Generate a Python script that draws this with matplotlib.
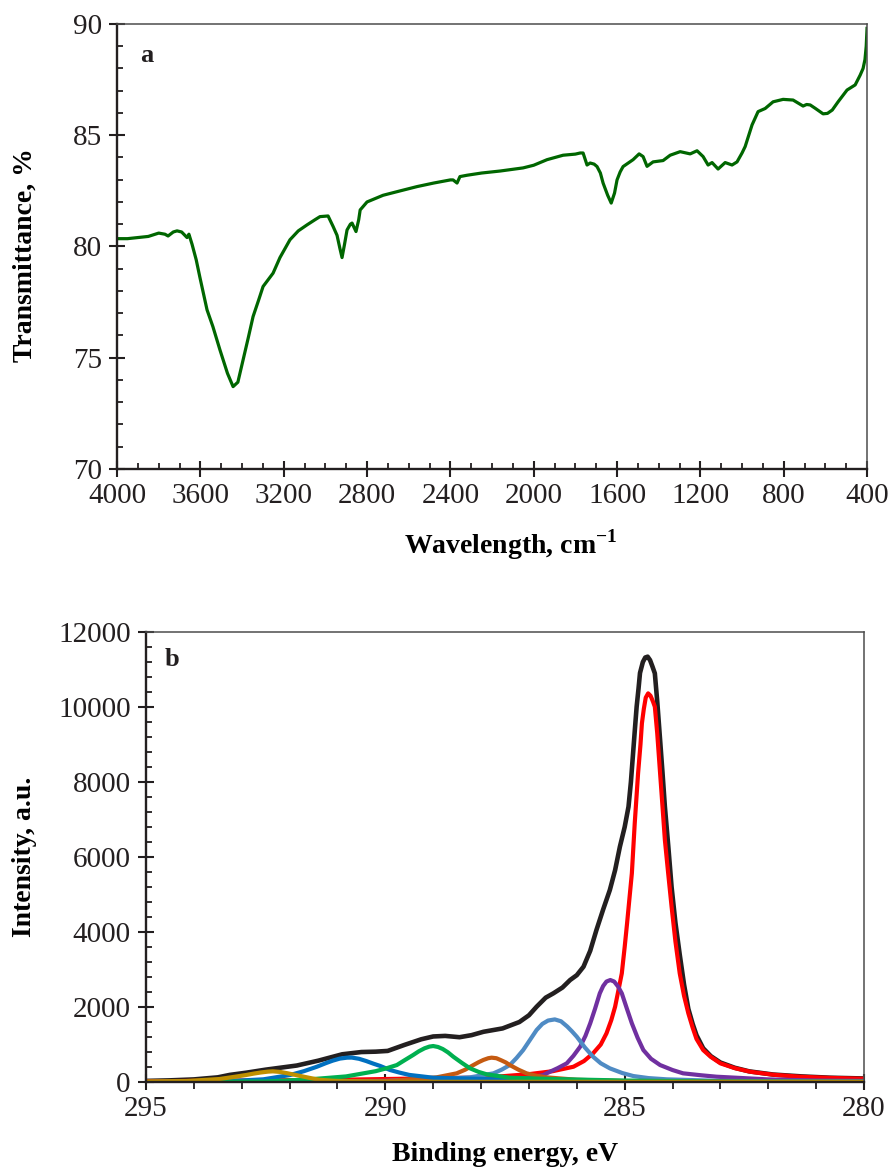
import matplotlib
matplotlib.use("Agg")
import matplotlib.pyplot as plt
from matplotlib.ticker import MultipleLocator

plt.rcParams['font.family'] = ['Liberation Serif', 'DejaVu Serif']
plt.rcParams['mathtext.fontset'] = 'custom'
plt.rcParams['mathtext.rm'] = 'Liberation Serif'
plt.rcParams['mathtext.bf'] = 'Liberation Serif:bold'

# ---------------- Panel a: FTIR ----------------
ftir_wavenumber = [4000, 3950, 3900, 3850, 3800, 3770, 3755, 3730, 3712, 3690, 3664, 3655, 3640,
                   3620, 3602, 3568, 3540, 3506, 3470, 3443, 3420, 3395, 3370, 3347, 3320, 3299,
                   3251, 3218, 3194, 3170, 3130, 3088, 3050, 3026, 2987, 2963, 2944, 2930, 2920,
                   2908, 2896, 2880, 2872, 2853, 2840, 2833, 2800, 2723, 2640, 2560, 2480, 2400,
                   2387, 2368, 2354, 2320, 2250, 2161, 2051, 2000, 1936, 1859, 1800, 1777, 1763,
                   1744, 1729, 1710, 1696, 1680, 1667, 1645, 1628, 1612, 1600, 1585, 1571, 1523,
                   1494, 1475, 1456, 1427, 1379, 1345, 1297, 1249, 1216, 1187, 1163, 1144, 1115,
                   1081, 1048, 1024, 1000, 985, 952, 923, 889, 851, 803, 755, 707, 690, 673, 649,
                   611, 590, 567, 539, 496, 457, 433, 419, 410, 404, 400]
ftir_transmittance = [80.35, 80.35, 80.4, 80.45, 80.6, 80.55, 80.47, 80.65, 80.7, 80.65, 80.4, 80.55, 80.1,
                      79.4, 78.6, 77.15, 76.4, 75.35, 74.3, 73.7, 73.9, 74.9, 75.9, 76.85, 77.6, 78.2,
                      78.8, 79.5, 79.9, 80.3, 80.7, 80.97, 81.2, 81.34, 81.37, 80.9, 80.5, 79.9, 79.5,
                      80.1, 80.74, 81.0, 81.05, 80.67, 81.2, 81.64, 82.0, 82.3, 82.5, 82.69, 82.85, 82.99,
                      82.99, 82.85, 83.14, 83.2, 83.3, 83.39, 83.53, 83.65, 83.9, 84.1, 84.15, 84.2, 84.2,
                      83.66, 83.75, 83.7, 83.59, 83.3, 82.85, 82.3, 81.95, 82.4, 82.99, 83.35, 83.59, 83.9,
                      84.16, 84.04, 83.6, 83.8, 83.86, 84.1, 84.26, 84.16, 84.3, 84.04, 83.66, 83.77, 83.48,
                      83.77, 83.66, 83.8, 84.2, 84.49, 85.46, 86.06, 86.2, 86.5, 86.61, 86.58, 86.31, 86.38, 86.36, 86.21,
                      85.96, 85.98, 86.13, 86.5, 87.03, 87.26, 87.7, 88.0, 88.4, 89.0, 89.8]

ftir_xticks = [4000, 3600, 3200, 2800, 2400, 2000, 1600, 1200, 800, 400]
ftir_yticks = [70, 75, 80, 85, 90]

# ---------------- Panel b: XPS C1s ----------------
env_E = [295.0, 294.5, 294.0, 293.5, 293.25, 292.9, 292.5, 291.85, 291.4, 290.9, 290.5, 290.2,
         289.95, 289.6, 289.25, 289.0, 288.75, 288.45, 288.2, 287.95, 287.55, 287.2, 287.0,
         286.84, 286.65, 286.49, 286.3, 286.14, 286.0, 285.86, 285.72, 285.59, 285.45, 285.31,
         285.2, 285.1, 285.0, 284.92, 284.87, 284.83, 284.79, 284.75, 284.71, 284.68, 284.62,
         284.57, 284.52, 284.47, 284.42, 284.37, 284.32, 284.26, 284.21, 284.16, 284.09, 284.02,
         283.94, 283.85, 283.76, 283.67, 283.58, 283.5, 283.36, 283.2, 283.0, 282.7, 282.4,
         281.9, 281.3, 280.7, 280.0]
env_I = [30, 45, 70, 125, 190, 250, 330, 440, 570, 740, 800, 810,
         830, 990, 1140, 1215, 1230, 1195, 1250, 1340, 1430, 1600, 1780,
         2008, 2250, 2365, 2520, 2720, 2850, 3075, 3500, 4053, 4600, 5120,
         5650, 6275, 6800, 7342, 8000, 8675, 9350, 10008, 10500, 10907, 11200,
         11320, 11342, 11250, 11080, 10898, 10150, 9120, 8250, 7342, 6300, 5200,
         4250, 3400, 2600, 1950, 1550, 1250, 900, 690, 520, 380, 285,
         200, 150, 115, 95]

c1_E = [295.0, 293.0, 291.0, 289.0, 288.0, 287.5, 287.0, 286.5, 286.07, 285.85, 285.66, 285.5,
        285.38, 285.28, 285.2, 285.13, 285.06, 285.0, 284.95, 284.9, 284.85, 284.79, 284.72,
        284.67, 284.64, 284.6, 284.56, 284.51, 284.46, 284.41, 284.37, 284.32, 284.26, 284.21,
        284.16, 284.09, 284.02, 283.94, 283.85, 283.76, 283.67, 283.58, 283.5, 283.36, 283.2,
        283.0, 282.7, 282.38, 281.9, 281.34, 280.7, 280.0]
c1_I = [20, 40, 60, 100, 120, 160, 210, 290, 408, 560, 765, 1000,
        1298, 1650, 2008, 2450, 2898, 3600, 4232, 4900, 5565, 6898, 8232,
        9000, 9565, 9950, 10250, 10364, 10300, 10150, 10008, 9300, 8232, 7350,
        6453, 5550, 4675, 3750, 2898, 2300, 1832, 1450, 1150, 853, 670,
        498, 370, 275, 195, 142, 110, 88]

c2_E = [295.0, 289.0, 287.5, 287.0, 286.7, 286.56, 286.4, 286.21, 286.07, 285.93, 285.82, 285.72,
        285.62, 285.52, 285.45, 285.38, 285.3, 285.22, 285.14, 285.06, 284.96, 284.85, 284.73,
        284.61, 284.45, 284.26, 284.0, 283.78, 283.4, 283.08, 282.0, 281.0, 280.0]
c2_I = [0, 10, 50, 110, 187, 275, 370, 498, 700, 942, 1230, 1565,
        1950, 2365, 2560, 2680, 2720, 2680, 2550, 2365, 1980, 1565, 1180,
        853, 620, 453, 320, 232, 180, 142, 70, 40, 30]

c3_E = [295.0, 290.0, 289.0, 288.23, 287.74, 287.57, 287.4, 287.26, 287.12, 286.98, 286.84,
        286.72, 286.6, 286.46, 286.33, 286.2, 286.1, 286.0, 285.83, 285.66, 285.5, 285.31,
        285.05, 284.82, 284.5, 284.12, 283.0, 280.0]
c3_I = [0, 30, 80, 125, 232, 330, 453, 640, 853, 1120, 1387,
        1550, 1640, 1670, 1620, 1480, 1350, 1208, 920, 675, 500, 365,
        240, 160, 105, 72, 30, 10]

c4_E = [295.0, 290.0, 289.6, 288.93, 288.51, 288.33, 288.16, 288.05, 287.95, 287.85, 287.78,
        287.68, 287.58, 287.48, 287.4, 287.22, 287.05, 286.85, 286.63, 286.0, 285.0, 280.0]
c4_I = [0, 20, 60, 125, 232, 330, 453, 530, 590, 635, 650,
        635, 580, 520, 453, 330, 232, 170, 125, 60, 25, 0]

c5_E = [295.0, 292.5, 291.87, 291.5, 290.82, 290.2, 289.98, 289.76, 289.6, 289.42, 289.3,
        289.18, 289.08, 289.0, 288.9, 288.8, 288.69, 288.58, 288.4, 288.23, 288.05, 287.88,
        287.4, 286.5, 285.0, 283.0, 280.0]
c5_I = [0, 15, 53, 80, 150, 290, 365, 453, 580, 720, 820,
        900, 945, 960, 935, 880, 790, 675, 510, 365, 270, 205,
        115, 80, 40, 15, 5]

c6_E = [295.0, 293.5, 292.55, 291.99, 291.7, 291.43, 291.25, 291.1, 290.95, 290.8, 290.7,
        290.55, 290.4, 290.25, 290.11, 289.9, 289.7, 289.5, 289.0, 288.2, 287.0, 286.0,
        284.0, 280.0]
c6_I = [0, 10, 72, 187, 290, 408, 500, 570, 625, 650, 652,
        620, 560, 490, 430, 320, 250, 190, 115, 90, 50, 30,
        10, 0]

c7_E = [295.0, 294.16, 293.47, 293.2, 292.91, 292.75, 292.6, 292.45, 292.35, 292.2, 292.05,
        291.87, 291.6, 291.38, 291.1, 290.8, 290.0, 280.0]
c7_I = [15, 27, 80, 130, 187, 225, 255, 278, 285, 270, 235,
        187, 115, 60, 35, 20, 5, 5]

xps_xticks = [295, 290, 285, 280]
xps_yticks = [0, 2000, 4000, 6000, 8000, 10000, 12000]

# ---------------- Figure ----------------
fig = plt.figure(figsize=(8.88, 11.68), dpi=100)
ax1 = fig.add_axes([0.1318, 0.5985, 0.8446, 0.381])
ax2 = fig.add_axes([0.1644, 0.0736, 0.8086, 0.3853])

TICK_FS = 21
LABEL_FS = 20


def style_axes(ax):
    for side in ['left', 'bottom']:
        ax.spines[side].set_linewidth(1.7)
        ax.spines[side].set_color('#231f20')
    for side in ['top', 'right']:
        ax.spines[side].set_linewidth(1.1)
        ax.spines[side].set_color('#4d4d4d')
    ax.tick_params(which='major', direction='inout', length=12, width=1.5,
                   labelsize=TICK_FS, color='#231f20', labelcolor='#231f20', pad=4)
    ax.tick_params(which='minor', direction='in', length=4.5, width=1.3, color='#231f20')
    ax.tick_params(top=False, right=False, which='both')


# Panel a
ax1.plot(ftir_wavenumber, ftir_transmittance, color='#006600', lw=2.3, solid_joinstyle='round')
ax1.set_xlim(4000, 400)
ax1.set_ylim(70, 90)
ax1.set_xticks(ftir_xticks)
ax1.set_yticks(ftir_yticks)
ax1.xaxis.set_minor_locator(MultipleLocator(100))
ax1.yaxis.set_minor_locator(MultipleLocator(1))
style_axes(ax1)
ax1.tick_params(axis='x', which='major', pad=4)
ax1.tick_params(axis='y', which='major', pad=5)
ax1.set_xlabel(r'Wavelength, cm$^{\mathbf{-1}}$', fontsize=LABEL_FS, fontweight='bold', va='center')
ax1.xaxis.set_label_coords(0.525, -0.171)
ax1.set_ylabel('Transmittance, %', fontsize=LABEL_FS, fontweight='bold', va='center')
ax1.yaxis.set_label_coords(-0.123, 0.48)
ax1.text(0.04, 0.93, 'a', transform=ax1.transAxes, fontsize=19, fontweight='bold',
         ha='center', va='center', color='#231f20')

# Panel b
LW = 3.0
ax2.plot(env_E, env_I, color='#231f20', lw=LW + 0.3, solid_joinstyle='round')
ax2.plot(c1_E, c1_I, color='#ff0000', lw=LW, solid_joinstyle='round')
ax2.plot(c2_E, c2_I, color='#7030a0', lw=LW, solid_joinstyle='round')
ax2.plot(c3_E, c3_I, color='#4f8bc4', lw=LW, solid_joinstyle='round')
ax2.plot(c4_E, c4_I, color='#c55a11', lw=LW, solid_joinstyle='round')
ax2.plot(c6_E, c6_I, color='#0070c0', lw=LW, solid_joinstyle='round')
ax2.plot(c5_E, c5_I, color='#00b050', lw=LW, solid_joinstyle='round')
ax2.plot(c7_E, c7_I, color='#bf9000', lw=LW, solid_joinstyle='round')
ax2.set_xlim(295, 280)
ax2.set_ylim(0, 12000)
ax2.set_xticks(xps_xticks)
ax2.set_yticks(xps_yticks)
ax2.xaxis.set_minor_locator(MultipleLocator(1))
ax2.yaxis.set_minor_locator(MultipleLocator(400))
style_axes(ax2)
ax2.tick_params(axis='x', which='minor', direction='out', length=5)
ax2.tick_params(axis='x', which='major', pad=4)
ax2.tick_params(axis='y', which='major', pad=5)
ax2.set_xlabel('Binding energy, eV', fontsize=LABEL_FS, fontweight='bold', va='center')
ax2.xaxis.set_label_coords(0.5, -0.162)
ax2.set_ylabel('Intensity, a.u.', fontsize=LABEL_FS, fontweight='bold', va='center')
ax2.yaxis.set_label_coords(-0.1685, 0.5)
ax2.text(0.036, 0.938, 'b', transform=ax2.transAxes, fontsize=19, fontweight='bold',
         ha='center', va='center', color='#231f20')

fig.savefig('out.png', dpi=100)
